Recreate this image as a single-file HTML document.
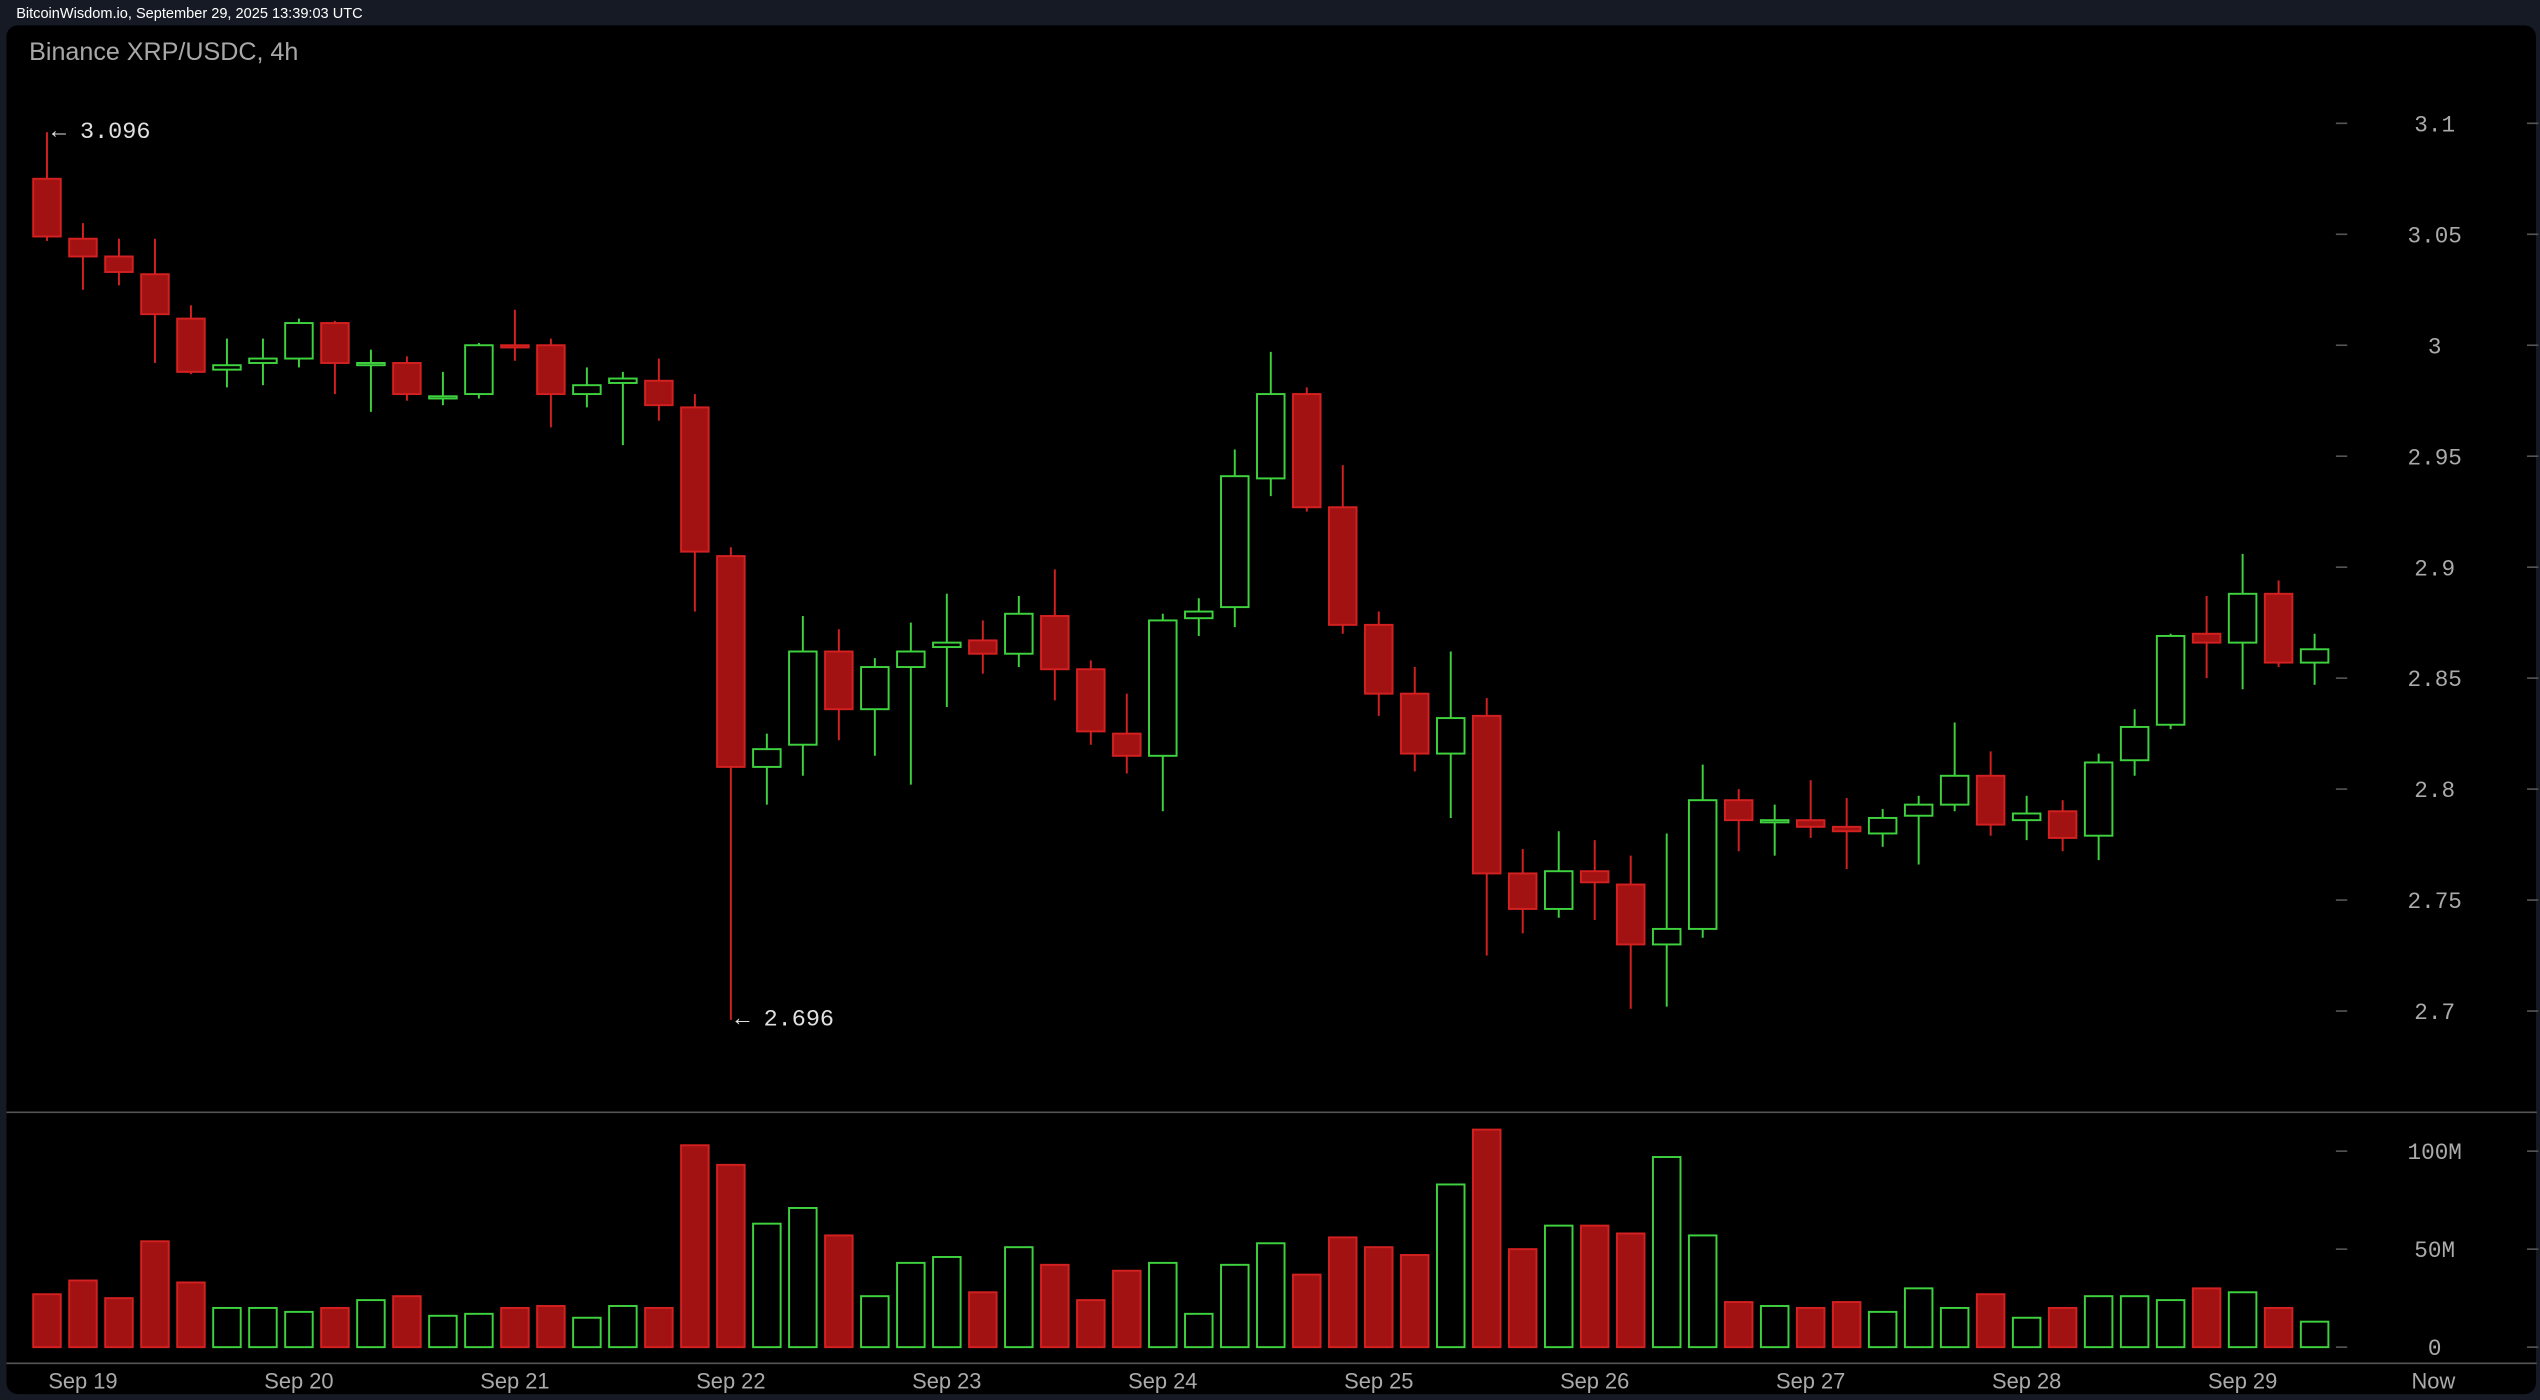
<!DOCTYPE html>
<html><head><meta charset="utf-8"><style>
html,body{margin:0;padding:0;background:#161a24;}
svg{display:block}
</style></head><body>
<svg id="chart" width="2540" height="1400" viewBox="0 0 1568 864" xmlns="http://www.w3.org/2000/svg">
<rect x="0" y="0" width="1568" height="864" fill="#161a24"/>
<text x="10" y="11" fill="#fff" font-family="Liberation Sans, sans-serif" font-size="9">BitcoinWisdom.io, September 29, 2025 13:39:03 UTC</text>
<rect x="4" y="15.5" width="1561.5" height="845" rx="7" fill="#000"/>
<text x="18" y="37" fill="#a8a8a8" font-family="Liberation Sans, sans-serif" font-size="15.5">Binance XRP/USDC, 4h</text>
<line x1="4" x2="1566" y1="686.5" y2="686.5" stroke="#555" stroke-width="1"/>
<line x1="4" x2="1566" y1="841.5" y2="841.5" stroke="#555" stroke-width="1"/>
<g id="g"></g>
</svg>
<script>
const opens=[3.075,3.048,3.040,3.032,3.012,2.989,2.992,2.994,3.010,2.991,2.992,2.976,2.978,3.000,3.000,2.978,2.983,2.984,2.972,2.905,2.810,2.820,2.862,2.836,2.855,2.864,2.867,2.861,2.878,2.854,2.825,2.815,2.877,2.882,2.940,2.978,2.927,2.874,2.843,2.816,2.833,2.762,2.746,2.763,2.757,2.730,2.737,2.795,2.785,2.786,2.783,2.780,2.788,2.793,2.806,2.786,2.790,2.779,2.813,2.829,2.870,2.866,2.888,2.857];
const closes=[3.049,3.040,3.033,3.014,2.988,2.991,2.994,3.010,2.992,2.992,2.978,2.977,3.000,2.999,2.978,2.982,2.985,2.973,2.907,2.810,2.818,2.862,2.836,2.855,2.862,2.866,2.861,2.879,2.854,2.826,2.815,2.876,2.880,2.941,2.978,2.927,2.874,2.843,2.816,2.832,2.762,2.746,2.763,2.758,2.730,2.737,2.795,2.786,2.786,2.783,2.781,2.787,2.793,2.806,2.784,2.789,2.778,2.812,2.828,2.869,2.866,2.888,2.857,2.863];
const highs=[3.096,3.055,3.048,3.048,3.018,3.003,3.003,3.012,3.011,2.998,2.995,2.988,3.001,3.016,3.003,2.990,2.988,2.994,2.978,2.909,2.825,2.878,2.872,2.859,2.875,2.888,2.876,2.887,2.899,2.858,2.843,2.879,2.886,2.953,2.997,2.981,2.946,2.880,2.855,2.862,2.841,2.773,2.781,2.777,2.770,2.780,2.811,2.800,2.793,2.804,2.796,2.791,2.797,2.830,2.817,2.797,2.795,2.816,2.836,2.870,2.887,2.906,2.894,2.870];
const lows=[3.047,3.025,3.027,2.992,2.987,2.981,2.982,2.990,2.978,2.970,2.975,2.973,2.976,2.993,2.963,2.972,2.955,2.966,2.880,2.696,2.793,2.806,2.822,2.815,2.802,2.837,2.852,2.855,2.840,2.820,2.807,2.790,2.869,2.873,2.932,2.925,2.870,2.833,2.808,2.787,2.725,2.735,2.742,2.741,2.701,2.702,2.733,2.772,2.770,2.778,2.764,2.774,2.766,2.790,2.779,2.777,2.772,2.768,2.806,2.827,2.850,2.845,2.855,2.847];
const volumes=[27,34,25,54,33,20,20,18,20,24,26,16,17,20,21,15,21,20,103,93,63,71,57,26,43,46,28,51,42,24,39,43,17,42,53,37,56,51,47,83,111,50,62,62,58,97,57,23,21,20,23,18,30,20,27,15,20,26,26,24,30,28,20,13];
const priceTicks=[3.1,3.05,3.0,2.95,2.9,2.85,2.8,2.75,2.7];
const priceTickLabels=["3.1","3.05","3","2.95","2.9","2.85","2.8","2.75","2.7"];
const volTicks=[100,50,0];
const volTickLabels=["100M","50M","0"];
const dayLabels=["Sep 19","Sep 20","Sep 21","Sep 22","Sep 23","Sep 24","Sep 25","Sep 26","Sep 27","Sep 28","Sep 29","Now"];
const dayIndex=[1,7,13,19,25,31,37,43,49,55,61,66.3];

const NS="http://www.w3.org/2000/svg";
const g=document.getElementById('g');
const X=i=>29+i*22.22;
const Y=p=>76+(3.1-p)*1370;
const V=v=>831.5-v*1.21;
const RED="#d32020",REDF="#a31212",GRN="#3fd23f";
function mk(tag,attrs){const e=document.createElementNS(NS,tag);for(const k in attrs)e.setAttribute(k,attrs[k]);g.appendChild(e);return e;}
const MONO="Liberation Mono, DejaVu Sans Mono, monospace";

priceTicks.forEach((p,i)=>{
  const t=mk('line',{x1:1442,x2:1449,y1:Y(p),y2:Y(p),stroke:'#555'});
  
  
  const t2=mk('line',{x1:1560,x2:1567,y1:Y(p),y2:Y(p),stroke:'#555'});
  
  
  const l=mk('text',{x:1503,y:Y(p)+5,fill:'#aaa','font-family':MONO,'font-size':14,'text-anchor':'middle'});
  l.textContent=priceTickLabels[i];
  
  
});
volTicks.forEach((v,i)=>{
  const t=mk('line',{x1:1442,x2:1449,y1:V(v),y2:V(v),stroke:'#555'});
  
  
  const t2=mk('line',{x1:1560,x2:1567,y1:V(v),y2:V(v),stroke:'#555'});
  
  
  const l=mk('text',{x:1503,y:V(v)+5,fill:'#aaa','font-family':MONO,'font-size':14,'text-anchor':'middle'});
  l.textContent=volTickLabels[i];
  
  
});
dayLabels.forEach((d,i)=>{
  const l=mk('text',{x:X(dayIndex[i]),y:857,fill:'#aaa','font-family':'Liberation Sans, sans-serif','font-size':13.5,'text-anchor':'middle'});
  l.textContent=d;
  
  
});
const bw=17;
opens.forEach((o,i)=>{
  const c=closes[i],up=c>=o,x=X(i);
  const col=up?GRN:RED;
  const w=mk('line',{x1:x,x2:x,y1:Y(highs[i]),y2:Y(lows[i]),stroke:col,'stroke-width':1.2});
  
  
  const top=Y(Math.max(o,c)),h=Math.max(1,Math.abs(Y(o)-Y(c)));
  const b=mk('rect',{x:x-bw/2,y:top,width:bw,height:h,fill:up?'#000':REDF,stroke:col,'stroke-width':1.2});
  
  
  const vb=mk('rect',{x:x-bw/2,y:V(volumes[i]),width:bw,height:V(0)-V(volumes[i]),fill:up?'#000':REDF,stroke:col,'stroke-width':1.2});
  
  
});
const hi=mk('text',{x:32,y:85,fill:'#e0e0e0','font-family':MONO,'font-size':14.5});
hi.textContent='← 3.096';


const lo=mk('text',{x:454,y:633,fill:'#e0e0e0','font-family':MONO,'font-size':14.5});
lo.textContent='← 2.696';


</script>
</body></html>
